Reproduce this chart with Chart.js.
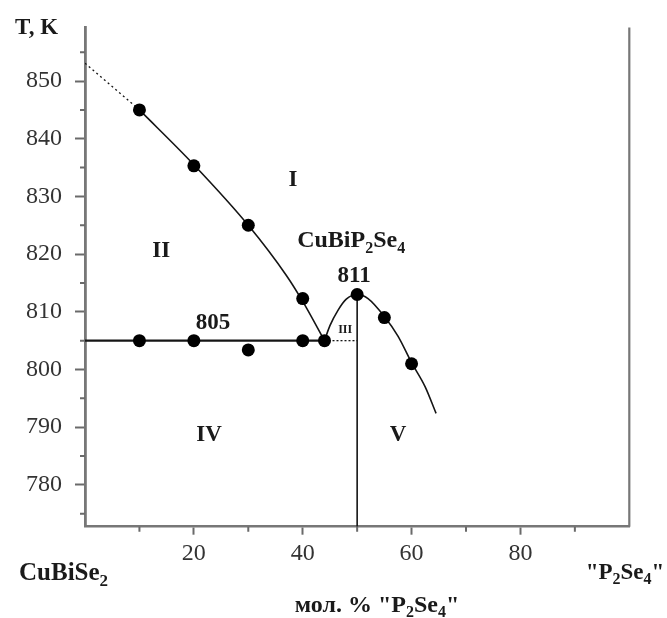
<!DOCTYPE html>
<html>
<head>
<meta charset="utf-8">
<script src="https://cdn.jsdelivr.net/npm/chart.js@4.4.1/dist/chart.umd.min.js"></script>
<style>
  body { margin: 0; background: #fff; }
</style>
</head>
<body>
<canvas id="phaseChart" width="667" height="618"></canvas>
<script>
const SERIF = '"Liberation Serif", "Times New Roman", serif';

// axis ranges and ticks
const xMin = 0, xMax = 100;
const yMin = 772.75, yMax = 859.3;
const xTicksMajor = [20, 40, 60, 80];
const xTicksMinor = [10, 30, 50, 70, 90];
const yTicksMajor = [780, 790, 800, 810, 820, 830, 840, 850];
const yTicksMinor = [775, 785, 795, 805, 815, 825, 835, 845, 855];

// experimental points (mol. % "P2Se4", T in K)
const liquidusPts = [{x: 10, y: 845}, {x: 20, y: 835.3}, {x: 30, y: 825}, {x: 40, y: 812.3}];
const solidusPts = [{x: 10, y: 805}, {x: 20, y: 805}, {x: 30, y: 803.4}, {x: 40, y: 805}, {x: 44, y: 805}];
const compoundPts = [{x: 50, y: 813}, {x: 55, y: 809}, {x: 60, y: 801}];

// drawn lines
const liquidusLeft = [{x: 10, y: 845}, {x: 20, y: 835.5}, {x: 30, y: 825}, {x: 37, y: 816.3}, {x: 40, y: 811.8}, {x: 44, y: 805}];
const liquidusGuess = [{x: 0, y: 853.1}, {x: 10, y: 845}];
const liquidusRight = [{x: 44, y: 805}, {x: 45, y: 807.6}, {x: 46.5, y: 810.3}, {x: 48, y: 812.2}, {x: 50, y: 813},
  {x: 52, y: 812.3}, {x: 55, y: 809.2}, {x: 57.5, y: 805.8}, {x: 60, y: 801.2}, {x: 62.5, y: 797}, {x: 64.5, y: 792.4}];
const eutecticLine = [{x: 0, y: 805}, {x: 44, y: 805}];
const eutecticDash = [{x: 44, y: 805}, {x: 50, y: 805}];
const compoundLine = [{x: 50, y: 813}, {x: 50, y: yMin}];

// labels inside the plot: text parts ([text, subscript]), x, T
const plotLabels = [
  {parts: [["I", 0]], x: 38.2, y: 831.8, size: 23},
  {parts: [["II", 0]], x: 14.0, y: 819.5, size: 23},
  {parts: [["CuBiP", 0], ["2", 1], ["Se", 0], ["4", 1]], x: 48.9, y: 821.2, size: 24},
  {parts: [["811", 0]], x: 49.45, y: 815.2, size: 23},
  {parts: [["805", 0]], x: 23.5, y: 807.0, size: 23},
  {parts: [["III", 0]], x: 47.8, y: 806.4, size: 12},
  {parts: [["IV", 0]], x: 22.8, y: 787.6, size: 23},
  {parts: [["V", 0]], x: 57.5, y: 787.6, size: 23}
];

function drawRich(ctx, parts, x, y, size, align) {
  const fonts = parts.map(([, sub]) => `bold ${sub ? Math.round(size * 0.68) : size}px ${SERIF}`);
  const widths = parts.map(([t], i) => { ctx.font = fonts[i]; return ctx.measureText(t).width; });
  const total = widths.reduce((a, b) => a + b, 0);
  let cx = align === 'center' ? x - total / 2 : align === 'right' ? x - total : x;
  ctx.textAlign = 'left';
  ctx.textBaseline = 'alphabetic';
  parts.forEach(([t, sub], i) => {
    ctx.font = fonts[i];
    ctx.fillText(t, cx, sub ? y + size * 0.24 : y);
    cx += widths[i];
  });
}

const extras = {
  id: 'extras',
  afterDraw(chart) {
    const {ctx, chartArea: ca, scales: {x, y}} = chart;
    ctx.save();
    // minor ticks
    ctx.strokeStyle = '#6a6a6a';
    ctx.lineWidth = 2;
    ctx.beginPath();
    yTicksMinor.forEach(v => { const py = y.getPixelForValue(v); ctx.moveTo(ca.left - 5, py); ctx.lineTo(ca.left, py); });
    xTicksMinor.forEach(v => { const px = x.getPixelForValue(v); ctx.moveTo(px, ca.bottom); ctx.lineTo(px, ca.bottom + 5); });
    ctx.stroke();
    // right frame line
    ctx.strokeStyle = '#777';
    ctx.lineWidth = 2.2;
    ctx.beginPath();
    const rx = x.getPixelForValue(xMax);
    ctx.moveTo(rx, ca.top);
    ctx.lineTo(rx, ca.bottom);
    ctx.stroke();
    // labels in the plot
    ctx.fillStyle = '#1a1a1a';
    plotLabels.forEach(l => drawRich(ctx, l.parts, x.getPixelForValue(l.x), y.getPixelForValue(l.y), l.size, 'center'));
    // labels around the axes
    drawRich(ctx, [["T, K", 0]], ca.left - 70, ca.top + 7, 23, 'left');
    drawRich(ctx, [["CuBiSe", 0], ["2", 1]], ca.left - 66, ca.bottom + 53, 25, 'left');
    drawRich(ctx, [["\"P", 0], ["2", 1], ["Se", 0], ["4", 1], ["\"", 0]], ca.right + 35, ca.bottom + 52, 23, 'right');
    drawRich(ctx, [["мол. % \"P", 0], ["2", 1], ["Se", 0], ["4", 1], ["\"", 0]], ca.left + 292, ca.bottom + 85, 24, 'center');
    ctx.restore();
  }
};

const lineStyle = {borderColor: '#151515', borderWidth: 1.6, pointRadius: 0, fill: false};
const dotStyle = {showLine: false, pointRadius: 6.5, pointBackgroundColor: '#000', pointBorderWidth: 0};

new Chart(document.getElementById('phaseChart').getContext('2d'), {
  type: 'line',
  data: {
    datasets: [
      {data: liquidusPts, ...dotStyle},
      {data: solidusPts, ...dotStyle},
      {data: compoundPts, ...dotStyle},
      {data: liquidusLeft, ...lineStyle, cubicInterpolationMode: 'monotone'},
      {data: liquidusGuess, ...lineStyle, borderWidth: 1.3, borderDash: [2, 3]},
      {data: liquidusRight, ...lineStyle, cubicInterpolationMode: 'monotone'},
      {data: eutecticLine, ...lineStyle, borderWidth: 2.2},
      {data: eutecticDash, ...lineStyle, borderWidth: 1.3, borderDash: [2, 2]},
      {data: compoundLine, ...lineStyle}
    ]
  },
  options: {
    responsive: false,
    animation: false,
    layout: {padding: {top: 20.7, right: 37.7, bottom: 0, left: 0}},
    plugins: {legend: {display: false}, tooltip: {enabled: false}},
    scales: {
      x: {
        type: 'linear', min: xMin, max: xMax,
        afterBuildTicks: s => { s.ticks = xTicksMajor.map(v => ({value: v})); },
        afterFit: s => { s.height = 91.3; },
        grid: {drawOnChartArea: false, tickLength: 8, tickWidth: 2, tickColor: '#6a6a6a'},
        border: {color: '#777', width: 2.5},
        ticks: {font: {family: SERIF, size: 24}, color: '#333', padding: 5, maxRotation: 0, callback: v => String(v)}
      },
      y: {
        type: 'linear', min: yMin, max: yMax,
        afterBuildTicks: s => { s.ticks = yTicksMajor.map(v => ({value: v})); },
        afterFit: s => { s.width = 85; },
        grid: {drawOnChartArea: false, tickLength: 10, tickWidth: 2, tickColor: '#6a6a6a'},
        border: {color: '#777', width: 2.8},
        ticks: {font: {family: SERIF, size: 24}, color: '#333', padding: 13, callback: v => String(v)}
      }
    }
  },
  plugins: [extras]
});
</script>
</body>
</html>
